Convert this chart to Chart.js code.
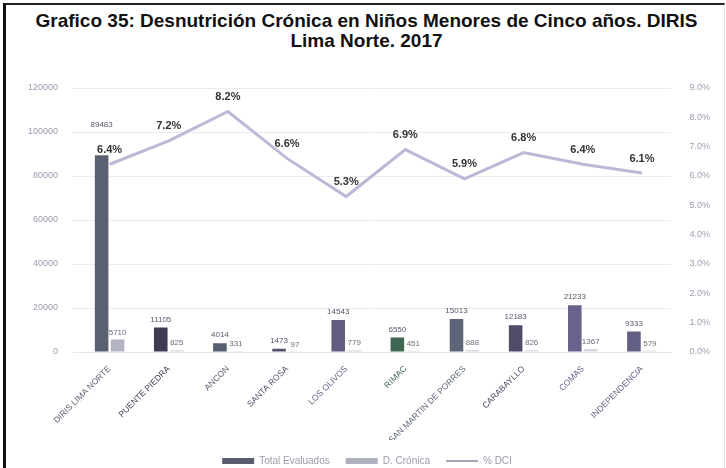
<!DOCTYPE html>
<html>
<head>
<meta charset="utf-8">
<script src="https://cdn.jsdelivr.net/npm/chart.js@4.4.0/dist/chart.umd.min.js"></script>
<style>
  html, body { margin: 0; padding: 0; background: #fff; }
  #page { position: relative; width: 726px; height: 468px; overflow: hidden; background: #fff; }
  #frame { position: absolute; left: 3px; top: 3px; width: 718px; height: 470px;
           border-left: 3px solid #111; border-top: 2px solid #222; border-right: 1px solid #ddd; }
  #title { position: absolute; left: 0; top: 11px; width: 733px; text-align: center;
           font-family: "Liberation Sans", Arial, sans-serif; font-weight: bold; font-size: 19px;
           line-height: 20px; color: #111; }
  #wrap { position: absolute; left: 10px; top: 62px; width: 710px; height: 414px; }
</style>
</head>
<body>
<div id="page">
  <div id="frame"></div>
  <div id="title">Grafico 35: Desnutrición Crónica en Niños Menores de Cinco años. DIRIS<br>Lima Norte. 2017</div>
  <div id="wrap"><canvas id="chart"></canvas></div>
</div>
<script>
// data
const districts = ['DIRIS LIMA NORTE', 'PUENTE PIEDRA', 'ANCON', 'SANTA ROSA', 'LOS OLIVOS',
                   'RIMAC', 'SAN MARTIN DE PORRES', 'CARABAYLLO', 'COMAS', 'INDEPENDENCIA'];
const totalEvaluados = [89483, 11105, 4014, 1473, 14543, 6550, 15013, 12183, 21233, 9333];
const dCronica = [5710, 825, 331, 97, 779, 451, 888, 826, 1367, 579];
const pctDCI = [6.4, 7.2, 8.2, 6.6, 5.3, 6.9, 5.9, 6.8, 6.4, 6.1];

const totalColors = ['#5b6070', '#3e3d52', '#595e70', '#56506e', '#615c80',
                     '#3f6652', '#5d6478', '#4e4c68', '#67638a', '#625f84'];
const cronicaColors = ['#b3b4c2', '#d6d6e0', '#d6d6e0', '#d6d6e0', '#d6d6e0',
                       '#d6d6e0', '#d6d6e0', '#d6d6e0', '#d6d6e0', '#d6d6e0'];

// draws the value labels next to bars and line points
const valueLabels = {
  id: 'valueLabels',
  afterDatasetsDraw(chart) {
    const ctx = chart.ctx;
    ctx.save();
    ctx.textAlign = 'center';
    ctx.textBaseline = 'bottom';

    chart.getDatasetMeta(0).data.forEach((bar, i) => {
      ctx.font = '8px "Liberation Sans", Arial, sans-serif';
      ctx.fillStyle = '#555a6a';
      let y = bar.y - 4;
      if (i === 0) y -= 22;
      ctx.fillText(totalEvaluados[i], bar.x, y);
    });
    chart.getDatasetMeta(1).data.forEach((bar, i) => {
      ctx.font = '8px "Liberation Sans", Arial, sans-serif';
      ctx.fillStyle = '#6a6d7c';
      ctx.fillText(dCronica[i], bar.x, bar.y - 3);
    });
    chart.getDatasetMeta(2).data.forEach((pt, i) => {
      ctx.font = 'bold 11px "Liberation Sans", Arial, sans-serif';
      ctx.fillStyle = '#333';
      ctx.fillText(pctDCI[i].toFixed(1) + '%', pt.x, pt.y - 9);
    });
    ctx.restore();
  }
};

const chart = new Chart(document.getElementById('chart'), {
  data: {
    labels: districts,
    datasets: [{
      type: 'bar',
      label: 'Total Evaluados',
      data: totalEvaluados,
      backgroundColor: totalColors,
      yAxisID: 'y',
      categoryPercentage: 0.54,
      barPercentage: 0.85,
      order: 2
    }, {
      type: 'bar',
      label: 'D. Crónica',
      data: dCronica,
      backgroundColor: cronicaColors,
      yAxisID: 'y',
      categoryPercentage: 0.54,
      barPercentage: 0.85,
      order: 2
    }, {
      type: 'line',
      label: '% DCI',
      data: pctDCI,
      borderColor: '#bdb8d6',
      backgroundColor: '#bdb8d6',
      borderWidth: 3,
      pointRadius: 0,
      tension: 0,
      yAxisID: 'y1',
      order: 1
    }]
  },
  options: {
    responsive: true,
    maintainAspectRatio: false,
    animation: false,
    layout: { padding: { left: 4, right: 0, top: 26, bottom: 0 } },
    scales: {
      x: {
        grid: { display: false },
        border: { color: '#e4e4ea' },
        afterFit: scale => { scale.height = 88; },
        ticks: {
          minRotation: 45,
          maxRotation: 45,
          padding: 4,
          font: { size: 8.5, family: '"Liberation Sans", Arial, sans-serif' },
          color: ctx => totalColors[ctx.index]
        }
      },
      y: {
        position: 'left',
        min: 0,
        max: 120000,
        ticks: {
          stepSize: 20000,
          font: { size: 9, family: '"Liberation Sans", Arial, sans-serif' },
          color: '#9a9cb0',
          padding: 14,
          callback: v => String(v)
        },
        grid: { color: '#ececf0' },
        border: { display: false }
      },
      y1: {
        position: 'right',
        min: 0,
        max: 9,
        ticks: {
          stepSize: 1,
          font: { size: 9, family: '"Liberation Sans", Arial, sans-serif' },
          color: '#9a9cb0',
          padding: 10,
          callback: v => v.toFixed(1) + '%'
        },
        grid: { display: false },
        border: { display: false }
      }
    },
    plugins: {
      legend: {
        position: 'bottom',
        labels: {
          usePointStyle: true,
          pointStyleWidth: 32,
          boxHeight: 6,
          padding: 16,
          color: '#9a9cac',
          font: { size: 10, family: '"Liberation Sans", Arial, sans-serif' },
          sort: (a, b) => a.datasetIndex - b.datasetIndex,
          generateLabels(chart) {
            const items = Chart.defaults.plugins.legend.labels.generateLabels(chart);
            items.forEach(it => {
              const d = it.datasetIndex;
              if (d === 0) { it.pointStyle = 'rect'; it.fillStyle = '#5a5d6e'; it.strokeStyle = '#5a5d6e'; it.lineWidth = 0; }
              if (d === 1) { it.pointStyle = 'rect'; it.fillStyle = '#b0b1be'; it.strokeStyle = '#b0b1be'; it.lineWidth = 0; }
              if (d === 2) { it.pointStyle = 'line'; it.strokeStyle = '#8a88a4'; it.lineWidth = 1.5; }
            });
            return items;
          }
        }
      },
      tooltip: { enabled: false }
    }
  },
  plugins: [valueLabels]
});
</script>
</body>
</html>
